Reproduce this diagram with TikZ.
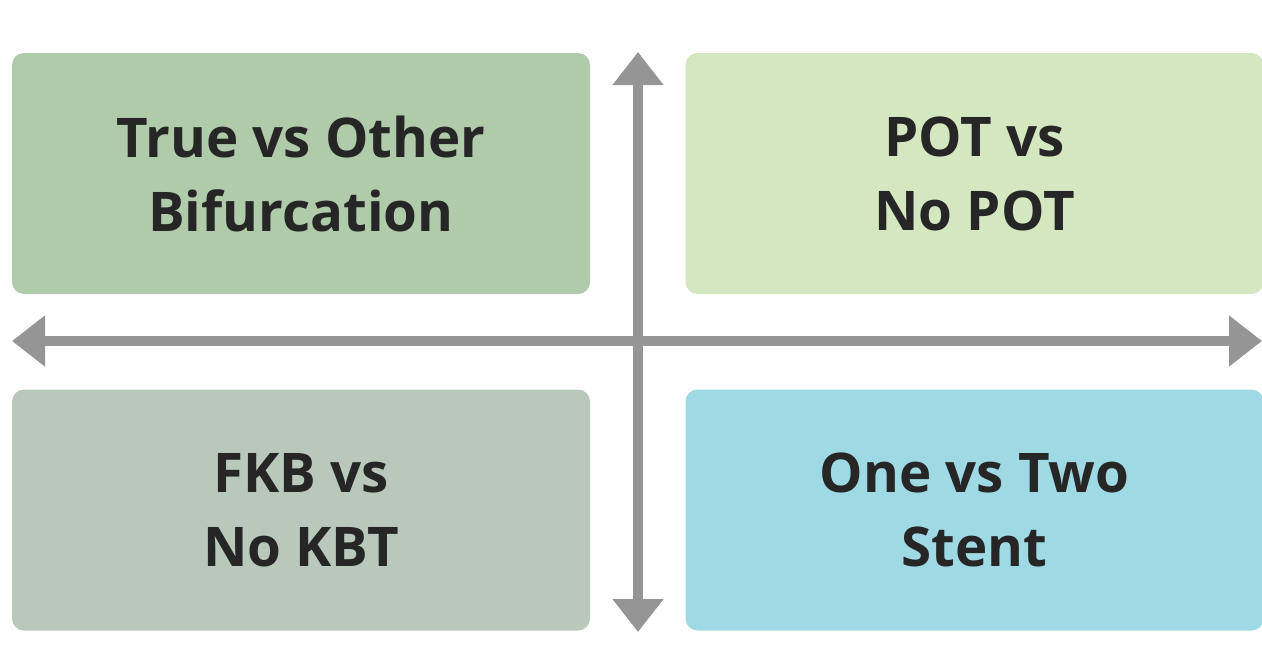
\documentclass[tikz,border=0pt]{standalone}
\usepackage{fontspec}
\setmainfont{Open Sans}
\usepackage{tikz}
\usetikzlibrary{positioning, arrows.meta}
\definecolor{truecolor}{RGB}{176,203,169}
\definecolor{potcolor}{RGB}{212,231,193}
\definecolor{kbtcolor}{RGB}{185,200,186}
\definecolor{stentcolor}{RGB}{159,217,228}
\definecolor{axiscolor}{RGB}{149,149,149}
\definecolor{labelcolor}{RGB}{38,38,38}

\begin{document}
\begin{tikzpicture}[x=0.75pt, y=-0.75pt,
    quadbox/.style={rectangle, rounded corners=9pt, minimum width=433.5pt, minimum height=180.75pt,
        inner sep=0pt, align=center, text=labelcolor, font=\fontsize{41}{55.5}\selectfont\bfseries},
    axisarrow/.style={{Triangle[length=24.75pt, width=36.75pt]}-{Triangle[length=24.75pt, width=36.75pt]},
        line width=7.5pt, axiscolor}
]
    \useasboundingbox (0,0) rectangle (1262,646);

    % === QUADRANTS ===
    \node[quadbox, fill=truecolor] (trueother) at (301, 173.5) {True vs Other\\Bifurcation};
    \node[quadbox, fill=potcolor] (pot) at (974.5, 173.5) {POT vs\\No POT};
    \node[quadbox, fill=kbtcolor] (kbt) at (301, 510) {FKB vs\\No KBT};
    \node[quadbox, fill=stentcolor] (stent) at (974.5, 510) {One vs Two\\Stent};

    % === AXES ===
    \coordinate (top) at (638, 52);
    \coordinate (bottom) at (638, 632);
    \coordinate (left) at (12, 341);
    \coordinate (right) at (1262, 341);
    \draw[axisarrow] (left) -- (right);
    \draw[axisarrow] (bottom) -- (top);

\end{tikzpicture}
\end{document}
